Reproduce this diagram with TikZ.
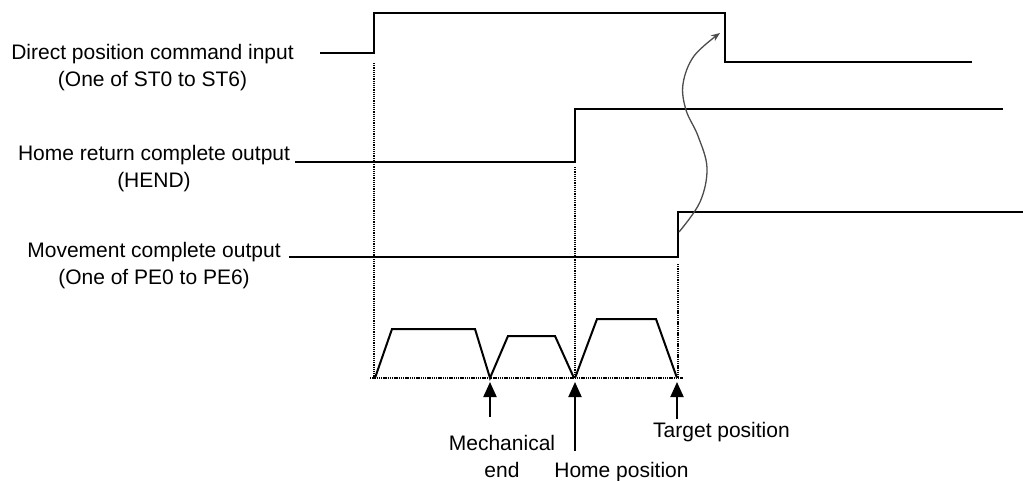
\documentclass[tikz,border=0pt]{standalone}
\usepackage{fontspec}
\setmainfont{Liberation Sans}
\usetikzlibrary{arrows.meta}
\begin{document}
\begin{tikzpicture}[x=1pt,y=-1pt,
  lbl/.style={font=\fontsize{21}{27}\selectfont, align=center, inner sep=0pt},
  sig/.style={line width=2.6pt, line join=miter},
  sigthin/.style={line width=2.1pt},
  guide/.style={line width=2pt, dash pattern=on 1.3pt off 0.9pt},
  prof/.style={line width=2pt, line join=miter},
  uparrow/.style={line width=2pt, -{Triangle[width=13pt,length=15pt]}},
  curvearrow/.style={line width=1.3pt, draw=black!70, -{Stealth[length=9pt,width=7pt]}}]
\useasboundingbox (0,0) rectangle (1023,481);
% labels
\node[lbl] (l1) at (152.5,68) {Direct position command input\\(One of ST0 to ST6)};
\node[lbl] (l2) at (154,168.5) {Home return complete output\\(HEND)};
\node[lbl] (l3) at (154,265.5) {Movement complete output\\(One of PE0 to PE6)};
% signals
\draw[sigthin] (320,53) -- (374,53) -- (374,13) -- (725,13) -- (725,62) -- (972,62);
\draw[sig] (295,162) -- (575,162) -- (575,109) -- (1003,109);
\draw[sig] (289,257) -- (678,257) -- (678,212) -- (1023,212);
% guides
\coordinate (ga) at (374,63);
\coordinate (gb) at (575,167);
\coordinate (gc) at (678,264);
\coordinate (pa) at (374,378);
\coordinate (pb) at (575,378);
\coordinate (pc) at (678,378);
\draw[guide] (ga) -- (pa);
\draw[guide] (gb) -- (pb);
\draw[guide] (gc) -- (pc);
\draw[guide] (370,378) -- (683,378);
% speed profiles
\coordinate (me) at (490,378);
\draw[prof] (375,378) -- (392,329) -- (475,329) -- (me) -- (508,336) -- (555,336) -- (574,378);
\draw[prof] (575,378) -- (597,319) -- (656,319) -- (677,378);
% position arrows
\coordinate (a1) at (490,417);
\coordinate (a2) at (575,451);
\coordinate (a3) at (677,419);
\draw[uparrow] (a1) -- (490,382);
\draw[uparrow] (a2) -- (575,382);
\draw[uparrow] (a3) -- (677,382);
\node[lbl] (mech) at (502,456.5) {Mechanical\\end};
\node[lbl] (home) at (621.5,472) {Home position};
\node[lbl] (targ) at (721.5,432) {Target position};
% curved arrow
\draw[curvearrow] plot[smooth, tension=0.6] coordinates {(679,232) (700,202) (707,168) (698,136) (686,110) (683,84) (694,56) (720,33)};
\end{tikzpicture}
\end{document}
